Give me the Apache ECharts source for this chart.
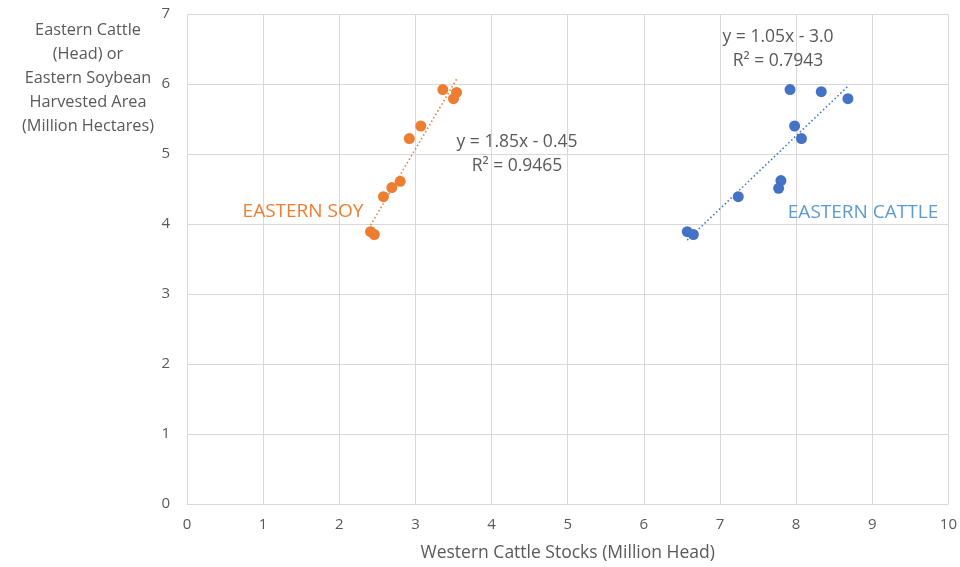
<!DOCTYPE html>
<html>
<head>
<meta charset="utf-8">
<script src="https://cdn.jsdelivr.net/npm/echarts@6/dist/echarts.min.js"></script>
<style>
  html, body { margin: 0; padding: 0; background: #fff; }
  #chart { width: 960px; height: 567px; }
</style>
</head>
<body>
<div id="chart"></div>
<script>
// Western cattle stocks (million head) on x, eastern values on y
const soyX = [3.36, 3.54, 3.50, 3.07, 2.92, 2.80, 2.69, 2.58, 2.41, 2.46];
const soyY = [5.92, 5.88, 5.79, 5.40, 5.22, 4.61, 4.52, 4.39, 3.89, 3.85];
const cattleX = [7.92, 8.33, 8.68, 7.98, 8.07, 7.80, 7.77, 7.24, 6.57, 6.65];
const cattleY = [5.92, 5.89, 5.79, 5.40, 5.22, 4.62, 4.51, 4.39, 3.89, 3.85];

const soyEquation = ['y = 1.85x - 0.45', 'R² = 0.9465'];
const cattleEquation = ['y = 1.05x - 3.0', 'R² = 0.7943'];
const soyName = 'EASTERN SOY';
const cattleName = 'EASTERN CATTLE';
const xTitle = 'Western Cattle Stocks (Million Head)';
const yTitle = ['Eastern Cattle', '(Head) or', 'Eastern Soybean', 'Harvested Area', '(Million Hectares)'];

const ORANGE = '#ED7D31';
const BLUE = '#4472C4';
const LIGHTBLUE = '#5B9BD5';
const TEXT = '#595959';
const FONT = '"Open Sans", "Liberation Sans", sans-serif';

// least-squares fit drawn across the x range of each series
function fit(xs, ys) {
  const n = xs.length;
  const mx = xs.reduce((a, b) => a + b, 0) / n;
  const my = ys.reduce((a, b) => a + b, 0) / n;
  let sxy = 0, sxx = 0;
  for (let i = 0; i < n; i++) {
    sxy += (xs[i] - mx) * (ys[i] - my);
    sxx += (xs[i] - mx) * (xs[i] - mx);
  }
  const m = sxy / sxx, b = my - m * mx;
  const lo = Math.min(...xs), hi = Math.max(...xs);
  return [[lo, m * lo + b], [hi, m * hi + b]];
}
const pairs = (xs, ys) => xs.map((x, i) => [x, ys[i]]);

function block(lines, x, y, size, color) {
  return {
    type: 'text', x: x, y: y, z: 10,
    style: {
      text: lines.join('\n'), fill: color, font: size + 'px ' + FONT,
      align: 'center', verticalAlign: 'top', lineHeight: 24
    }
  };
}

const chart = echarts.init(document.getElementById('chart'));
chart.setOption({
  animation: false,
  textStyle: { fontFamily: FONT },
  grid: { left: 187, right: 11, top: 14, bottom: 61 },
  xAxis: {
    type: 'value', min: 0, max: 10, interval: 1,
    name: xTitle, nameLocation: 'middle', nameGap: 40,
    nameTextStyle: { color: TEXT, fontSize: 17.5, fontFamily: FONT },
    axisLine: { show: false },
    axisTick: { show: false },
    axisLabel: { color: TEXT, fontSize: 15, margin: 13, fontFamily: FONT },
    splitLine: { show: true, lineStyle: { color: '#D9D9D9', width: 1 } }
  },
  yAxis: {
    type: 'value', min: 0, max: 7, interval: 1,
    axisLine: { show: false },
    axisTick: { show: false },
    axisLabel: { color: TEXT, fontSize: 15, margin: 17, fontFamily: FONT },
    splitLine: { show: true, lineStyle: { color: '#D9D9D9', width: 1 } }
  },
  series: [
    {
      name: soyName, type: 'line', data: fit(soyX, soyY), symbol: 'none',
      lineStyle: { color: ORANGE, width: 1.6, type: [1.5, 2.5] }, silent: true
    },
    {
      name: cattleName, type: 'line', data: fit(cattleX, cattleY), symbol: 'none',
      lineStyle: { color: BLUE, width: 1.6, type: [1.5, 2.5] }, silent: true
    },
    {
      name: soyName, type: 'scatter', data: pairs(soyX, soyY),
      symbolSize: 11, itemStyle: { color: ORANGE, opacity: 1 }
    },
    {
      name: cattleName, type: 'scatter', data: pairs(cattleX, cattleY),
      symbolSize: 11, itemStyle: { color: BLUE, opacity: 1 }
    }
  ],
  graphic: [
    block(yTitle, 88, 18, 16.3, TEXT),
    block(soyEquation, 517, 130, 17.5, TEXT),
    block(cattleEquation, 778, 25, 17.5, TEXT),
    block([soyName], 303, 200, 19, ORANGE),
    block([cattleName], 863, 201, 19, LIGHTBLUE)
  ]
});
</script>
</body>
</html>
